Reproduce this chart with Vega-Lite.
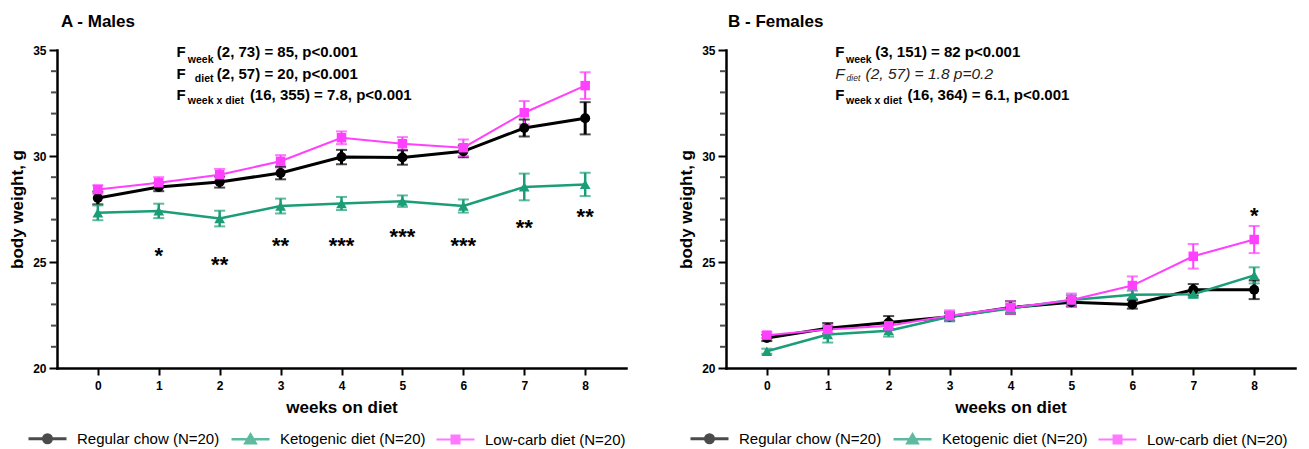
{
  "$schema": "https://vega.github.io/schema/vega-lite/v6.json",
  "padding": {"left": 8, "top": 13, "right": 13, "bottom": 0},
  "spacing": 51,
  "config": {
    "font": "Liberation Sans",
    "view": {"stroke": null},
    "axis": {"domainColor": "black", "domainWidth": 2.5, "domainCap": "square", "tickColor": "black", "tickWidth": 2, "labelColor": "black", "labelFontWeight": "bold", "labelFontSize": 12, "titleColor": "black", "titleFontWeight": "bold", "titleFontSize": 17, "grid": false, "labelOverlap": false, "labelBound": false, "labelFlush": false}
  },
  "datasets": {
    "minor": [
      {"v": 21}, {"v": 22}, {"v": 23}, {"v": 24}, {"v": 26}, {"v": 27}, {"v": 28}, {"v": 29},
      {"v": 31}, {"v": 32}, {"v": 33}, {"v": 34}
    ],
    "males": [
      {"diet": "Regular chow (N=20)", "week": 0, "mean": 28.02, "lo": 27.72, "hi": 28.32},
      {"diet": "Regular chow (N=20)", "week": 1, "mean": 28.54, "lo": 28.34, "hi": 28.74},
      {"diet": "Regular chow (N=20)", "week": 2, "mean": 28.77, "lo": 28.51, "hi": 29.03},
      {"diet": "Regular chow (N=20)", "week": 3, "mean": 29.20, "lo": 28.90, "hi": 29.50},
      {"diet": "Regular chow (N=20)", "week": 4, "mean": 29.95, "lo": 29.61, "hi": 30.29},
      {"diet": "Regular chow (N=20)", "week": 5, "mean": 29.93, "lo": 29.59, "hi": 30.27},
      {"diet": "Regular chow (N=20)", "week": 6, "mean": 30.22, "lo": 29.94, "hi": 30.50},
      {"diet": "Regular chow (N=20)", "week": 7, "mean": 31.32, "lo": 30.92, "hi": 31.72},
      {"diet": "Regular chow (N=20)", "week": 8, "mean": 31.78, "lo": 31.02, "hi": 32.54},
      {"diet": "Ketogenic diet (N=20)", "week": 0, "mean": 27.32, "lo": 26.97, "hi": 27.67},
      {"diet": "Ketogenic diet (N=20)", "week": 1, "mean": 27.41, "lo": 27.07, "hi": 27.75},
      {"diet": "Ketogenic diet (N=20)", "week": 2, "mean": 27.05, "lo": 26.68, "hi": 27.42},
      {"diet": "Ketogenic diet (N=20)", "week": 3, "mean": 27.64, "lo": 27.29, "hi": 27.99},
      {"diet": "Ketogenic diet (N=20)", "week": 4, "mean": 27.76, "lo": 27.45, "hi": 28.07},
      {"diet": "Ketogenic diet (N=20)", "week": 5, "mean": 27.87, "lo": 27.60, "hi": 28.14},
      {"diet": "Ketogenic diet (N=20)", "week": 6, "mean": 27.64, "lo": 27.33, "hi": 27.95},
      {"diet": "Ketogenic diet (N=20)", "week": 7, "mean": 28.54, "lo": 27.91, "hi": 29.17},
      {"diet": "Ketogenic diet (N=20)", "week": 8, "mean": 28.66, "lo": 28.11, "hi": 29.21},
      {"diet": "Low-carb diet (N=20)", "week": 0, "mean": 28.42, "lo": 28.22, "hi": 28.62},
      {"diet": "Low-carb diet (N=20)", "week": 1, "mean": 28.74, "lo": 28.48, "hi": 29.00},
      {"diet": "Low-carb diet (N=20)", "week": 2, "mean": 29.12, "lo": 28.85, "hi": 29.39},
      {"diet": "Low-carb diet (N=20)", "week": 3, "mean": 29.75, "lo": 29.46, "hi": 30.04},
      {"diet": "Low-carb diet (N=20)", "week": 4, "mean": 30.86, "lo": 30.56, "hi": 31.16},
      {"diet": "Low-carb diet (N=20)", "week": 5, "mean": 30.58, "lo": 30.27, "hi": 30.89},
      {"diet": "Low-carb diet (N=20)", "week": 6, "mean": 30.39, "lo": 30.00, "hi": 30.78},
      {"diet": "Low-carb diet (N=20)", "week": 7, "mean": 32.04, "lo": 31.49, "hi": 32.59},
      {"diet": "Low-carb diet (N=20)", "week": 8, "mean": 33.32, "lo": 32.69, "hi": 33.95}
    ],
    "females": [
      {"diet": "Regular chow (N=20)", "week": 0, "mean": 21.42, "lo": 21.27, "hi": 21.57},
      {"diet": "Regular chow (N=20)", "week": 1, "mean": 21.87, "lo": 21.62, "hi": 22.12},
      {"diet": "Regular chow (N=20)", "week": 2, "mean": 22.15, "lo": 21.85, "hi": 22.45},
      {"diet": "Regular chow (N=20)", "week": 3, "mean": 22.42, "lo": 22.24, "hi": 22.60},
      {"diet": "Regular chow (N=20)", "week": 4, "mean": 22.85, "lo": 22.55, "hi": 23.15},
      {"diet": "Regular chow (N=20)", "week": 5, "mean": 23.10, "lo": 22.90, "hi": 23.30},
      {"diet": "Regular chow (N=20)", "week": 6, "mean": 23.00, "lo": 22.80, "hi": 23.20},
      {"diet": "Regular chow (N=20)", "week": 7, "mean": 23.69, "lo": 23.42, "hi": 23.96},
      {"diet": "Regular chow (N=20)", "week": 8, "mean": 23.69, "lo": 23.25, "hi": 24.13},
      {"diet": "Ketogenic diet (N=20)", "week": 0, "mean": 20.79, "lo": 20.67, "hi": 20.91},
      {"diet": "Ketogenic diet (N=20)", "week": 1, "mean": 21.58, "lo": 21.20, "hi": 21.96},
      {"diet": "Ketogenic diet (N=20)", "week": 2, "mean": 21.76, "lo": 21.48, "hi": 22.04},
      {"diet": "Ketogenic diet (N=20)", "week": 3, "mean": 22.42, "lo": 22.20, "hi": 22.64},
      {"diet": "Ketogenic diet (N=20)", "week": 4, "mean": 22.81, "lo": 22.61, "hi": 23.01},
      {"diet": "Ketogenic diet (N=20)", "week": 5, "mean": 23.21, "lo": 22.99, "hi": 23.43},
      {"diet": "Ketogenic diet (N=20)", "week": 6, "mean": 23.45, "lo": 23.25, "hi": 23.65},
      {"diet": "Ketogenic diet (N=20)", "week": 7, "mean": 23.48, "lo": 23.33, "hi": 23.63},
      {"diet": "Ketogenic diet (N=20)", "week": 8, "mean": 24.37, "lo": 23.99, "hi": 24.75},
      {"diet": "Low-carb diet (N=20)", "week": 0, "mean": 21.55, "lo": 21.40, "hi": 21.70},
      {"diet": "Low-carb diet (N=20)", "week": 1, "mean": 21.82, "lo": 21.62, "hi": 22.02},
      {"diet": "Low-carb diet (N=20)", "week": 2, "mean": 21.99, "lo": 21.79, "hi": 22.19},
      {"diet": "Low-carb diet (N=20)", "week": 3, "mean": 22.47, "lo": 22.22, "hi": 22.72},
      {"diet": "Low-carb diet (N=20)", "week": 4, "mean": 22.85, "lo": 22.55, "hi": 23.15},
      {"diet": "Low-carb diet (N=20)", "week": 5, "mean": 23.21, "lo": 22.91, "hi": 23.51},
      {"diet": "Low-carb diet (N=20)", "week": 6, "mean": 23.89, "lo": 23.46, "hi": 24.32},
      {"diet": "Low-carb diet (N=20)", "week": 7, "mean": 25.27, "lo": 24.69, "hi": 25.85},
      {"diet": "Low-carb diet (N=20)", "week": 8, "mean": 26.06, "lo": 25.42, "hi": 26.70}
    ],
    "stars_m": [
      {"week": 1, "y": 25.56, "t": "*"},
      {"week": 2, "y": 25.14, "t": "**"},
      {"week": 3, "y": 26.06, "t": "**"},
      {"week": 4, "y": 26.03, "t": "***"},
      {"week": 5, "y": 26.46, "t": "***"},
      {"week": 6, "y": 26.03, "t": "***"},
      {"week": 7, "y": 26.89, "t": "**"},
      {"week": 8, "y": 27.41, "t": "**"}
    ],
    "stars_f": [
      {"week": 8, "y": 27.44, "t": "*"}
    ],
    "ann_m": [
      {"k": "main", "x": 1.29, "y": 34.65, "t": "F"},
      {"k": "sub", "x": 1.478, "y": 34.40, "t": "week"},
      {"k": "main", "x": 1.954, "y": 34.65, "t": "(2, 73) = 85, p<0.001"},
      {"k": "main", "x": 1.29, "y": 33.65, "t": "F"},
      {"k": "sub", "x": 1.593, "y": 33.47, "t": "diet"},
      {"k": "main", "x": 1.954, "y": 33.65, "t": "(2, 57) = 20, p<0.001"},
      {"k": "main", "x": 1.29, "y": 32.66, "t": "F"},
      {"k": "sub", "x": 1.478, "y": 32.46, "t": "week x diet"},
      {"k": "main", "x": 2.496, "y": 32.66, "t": "(16, 355) = 7.8, p<0.001"}
    ],
    "ann_f": [
      {"k": "main", "x": 1.123, "y": 34.65, "t": "F"},
      {"k": "sub", "x": 1.30, "y": 34.40, "t": "week"},
      {"k": "main", "x": 1.779, "y": 34.65, "t": "(3, 151) = 82 p<0.001"},
      {"k": "ital", "x": 1.123, "y": 33.65, "t": "F"},
      {"k": "italsub", "x": 1.31, "y": 33.52, "t": "diet"},
      {"k": "ital", "x": 1.62, "y": 33.65, "t": "(2, 57) = 1.8 p=0.2"},
      {"k": "main", "x": 1.123, "y": 32.66, "t": "F"},
      {"k": "sub", "x": 1.30, "y": 32.46, "t": "week x diet"},
      {"k": "main", "x": 2.31, "y": 32.66, "t": "(16, 364) = 6.1, p<0.001"}
    ]
  },
  "resolve": {
    "scale": {"color": "independent", "shape": "independent", "strokeWidth": "independent"},
    "legend": {"color": "independent", "shape": "independent"}
  },
  "hconcat": [
    {
      "width": 569,
      "height": 318,
      "title": {"text": "A - Males", "anchor": "start", "frame": "group", "fontSize": 17, "fontWeight": "bold", "color": "black", "dx": 4, "offset": 13},
      "layer": [
        {
          "data": {"name": "males"},
          "mark": {"type": "point", "filled": true, "opacity": 0, "size": 1444},
          "encoding": {
            "x": {"field": "week", "type": "quantitative", "title": "weeks on diet", "scale": {"domain": [-0.67, 8.67], "nice": false, "zero": false}, "axis": {"values": [0, 1, 2, 3, 4, 5, 6, 7, 8], "format": "d", "tickSize": 7, "labelPadding": 5, "titlePadding": 8}},
            "y": {"field": "mean", "type": "quantitative", "title": "body weight, g", "scale": {"domain": [20, 35], "nice": false, "zero": false}, "axis": {"values": [20, 25, 30, 35], "format": "d", "labelOverlap": false, "tickSize": 8, "labelPadding": 3, "titlePadding": 6}},
            "shape": {"field": "diet", "type": "nominal", "scale": {"domain": ["Regular chow (N=20)", "Ketogenic diet (N=20)", "Low-carb diet (N=20)"], "range": ["M-1,0L1,0M0.21,0A0.21,0.21,0,1,1,-0.21,0A0.21,0.21,0,1,1,0.21,0Z", "M-1,0L1,0M0,-0.26L0.27,0.2L-0.27,0.2Z", "M-1,0L1,0M-0.21,-0.21L0.21,-0.21L0.21,0.21L-0.21,0.21Z"]}, "legend": null},
            "color": {
              "field": "diet", "type": "nominal",
              "scale": {"domain": ["Regular chow (N=20)", "Ketogenic diet (N=20)", "Low-carb diet (N=20)"], "range": ["#000000", "#1b9e77", "#ff40ff"]},
              "legend": {"title": null, "orient": "none", "legendX": -30, "legendY": 368, "direction": "horizontal", "columns": 3, "labelFontSize": 15, "labelColor": "black", "labelFont": "Liberation Sans", "symbolSize": 1444, "symbolOpacity": 1, "labelOffset": 9, "columnPadding": 6}
            }
          }
        },
        {
          "data": {"name": "minor"},
          "mark": {"type": "tick", "orient": "horizontal", "size": 5, "thickness": 2, "color": "black", "xOffset": -3.5},
          "encoding": {
            "x": {"datum": -0.67, "type": "quantitative", "title": "weeks on diet"},
            "y": {"field": "v", "type": "quantitative", "title": "body weight, g"}
          }
        },
        {
          "data": {"name": "males"},
          "mark": {"type": "rule"},
          "encoding": {
            "x": {"field": "week", "type": "quantitative", "title": "weeks on diet"},
            "y": {"field": "lo", "type": "quantitative", "title": "body weight, g"},
            "y2": {"field": "hi"},
            "color": {"field": "diet", "type": "nominal"},
            "strokeWidth": {"field": "diet", "type": "nominal", "scale": {"domain": ["Regular chow (N=20)", "Ketogenic diet (N=20)", "Low-carb diet (N=20)"], "range": [3, 2, 2]}, "legend": null}
          }
        },
        {
          "data": {"name": "males"},
          "mark": {"type": "tick", "orient": "horizontal", "size": 11, "thickness": 2},
          "encoding": {
            "x": {"field": "week", "type": "quantitative", "title": "weeks on diet"},
            "y": {"field": "lo", "type": "quantitative", "title": "body weight, g"},
            "color": {"field": "diet", "type": "nominal"}
          }
        },
        {
          "data": {"name": "males"},
          "mark": {"type": "tick", "orient": "horizontal", "size": 11, "thickness": 2},
          "encoding": {
            "x": {"field": "week", "type": "quantitative", "title": "weeks on diet"},
            "y": {"field": "hi", "type": "quantitative", "title": "body weight, g"},
            "color": {"field": "diet", "type": "nominal"}
          }
        },
        {
          "data": {"name": "males"},
          "mark": {"type": "line"},
          "encoding": {
            "x": {"field": "week", "type": "quantitative", "title": "weeks on diet"},
            "y": {"field": "mean", "type": "quantitative", "title": "body weight, g"},
            "color": {"field": "diet", "type": "nominal"},
            "strokeWidth": {"field": "diet", "type": "nominal", "legend": null}
          }
        },
        {
          "data": {"name": "males"},
          "transform": [{"filter": "datum.diet === 'Regular chow (N=20)'"}],
          "mark": {"type": "point", "filled": true, "opacity": 1, "size": 100, "shape": "circle"},
          "encoding": {
            "x": {"field": "week", "type": "quantitative", "title": "weeks on diet"},
            "y": {"field": "mean", "type": "quantitative", "title": "body weight, g"},
            "color": {"field": "diet", "type": "nominal"}
          }
        },
        {
          "data": {"name": "males"},
          "transform": [{"filter": "datum.diet === 'Ketogenic diet (N=20)'"}],
          "mark": {"type": "point", "filled": true, "opacity": 1, "size": 115, "shape": "triangle-up"},
          "encoding": {
            "x": {"field": "week", "type": "quantitative", "title": "weeks on diet"},
            "y": {"field": "mean", "type": "quantitative", "title": "body weight, g"},
            "color": {"field": "diet", "type": "nominal"}
          }
        },
        {
          "data": {"name": "males"},
          "transform": [{"filter": "datum.diet === 'Low-carb diet (N=20)'"}],
          "mark": {"type": "point", "filled": true, "opacity": 1, "size": 90, "shape": "square"},
          "encoding": {
            "x": {"field": "week", "type": "quantitative", "title": "weeks on diet"},
            "y": {"field": "mean", "type": "quantitative", "title": "body weight, g"},
            "color": {"field": "diet", "type": "nominal"}
          }
        },
        {
          "data": {"name": "stars_m"},
          "mark": {"type": "text", "fontSize": 22, "fontWeight": "bold", "baseline": "middle", "align": "center", "dy": 6, "color": "black"},
          "encoding": {
            "x": {"field": "week", "type": "quantitative", "title": "weeks on diet"},
            "y": {"field": "y", "type": "quantitative", "title": "body weight, g"},
            "text": {"field": "t"}
          }
        },
        {
          "data": {"name": "ann_m"},
          "transform": [{"filter": "datum.k === 'main'"}],
          "mark": {"type": "text", "fontSize": 15, "fontWeight": "bold", "baseline": "alphabetic", "align": "left", "color": "black"},
          "encoding": {
            "x": {"field": "x", "type": "quantitative", "title": "weeks on diet"},
            "y": {"field": "y", "type": "quantitative", "title": "body weight, g"},
            "text": {"field": "t"}
          }
        },
        {
          "data": {"name": "ann_m"},
          "transform": [{"filter": "datum.k === 'sub'"}],
          "mark": {"type": "text", "fontSize": 10.5, "fontWeight": "bold", "baseline": "alphabetic", "align": "left", "color": "black"},
          "encoding": {
            "x": {"field": "x", "type": "quantitative", "title": "weeks on diet"},
            "y": {"field": "y", "type": "quantitative", "title": "body weight, g"},
            "text": {"field": "t"}
          }
        }
      ]
    },
    {
      "width": 569,
      "height": 318,
      "title": {"text": "B - Females", "anchor": "start", "frame": "group", "fontSize": 17, "fontWeight": "bold", "color": "black", "dx": 2, "offset": 13},
      "layer": [
        {
          "data": {"name": "females"},
          "mark": {"type": "point", "filled": true, "opacity": 0, "size": 1444},
          "encoding": {
            "x": {"field": "week", "type": "quantitative", "title": "weeks on diet", "scale": {"domain": [-0.67, 8.67], "nice": false, "zero": false}, "axis": {"values": [0, 1, 2, 3, 4, 5, 6, 7, 8], "format": "d", "tickSize": 7, "labelPadding": 5, "titlePadding": 8}},
            "y": {"field": "mean", "type": "quantitative", "title": "body weight, g", "scale": {"domain": [20, 35], "nice": false, "zero": false}, "axis": {"values": [20, 25, 30, 35], "format": "d", "labelOverlap": false, "tickSize": 8, "labelPadding": 3, "titlePadding": 6}},
            "shape": {"field": "diet", "type": "nominal", "scale": {"domain": ["Regular chow (N=20)", "Ketogenic diet (N=20)", "Low-carb diet (N=20)"], "range": ["M-1,0L1,0M0.21,0A0.21,0.21,0,1,1,-0.21,0A0.21,0.21,0,1,1,0.21,0Z", "M-1,0L1,0M0,-0.26L0.27,0.2L-0.27,0.2Z", "M-1,0L1,0M-0.21,-0.21L0.21,-0.21L0.21,0.21L-0.21,0.21Z"]}, "legend": null},
            "color": {
              "field": "diet", "type": "nominal",
              "scale": {"domain": ["Regular chow (N=20)", "Ketogenic diet (N=20)", "Low-carb diet (N=20)"], "range": ["#000000", "#1b9e77", "#ff40ff"]},
              "legend": {"title": null, "orient": "none", "legendX": -37, "legendY": 368, "direction": "horizontal", "columns": 3, "labelFontSize": 15, "labelColor": "black", "labelFont": "Liberation Sans", "symbolSize": 1444, "symbolOpacity": 1, "labelOffset": 9, "columnPadding": 6}
            }
          }
        },
        {
          "data": {"name": "minor"},
          "mark": {"type": "tick", "orient": "horizontal", "size": 5, "thickness": 2, "color": "black", "xOffset": -3.5},
          "encoding": {
            "x": {"datum": -0.67, "type": "quantitative", "title": "weeks on diet"},
            "y": {"field": "v", "type": "quantitative", "title": "body weight, g"}
          }
        },
        {
          "data": {"name": "females"},
          "mark": {"type": "rule"},
          "encoding": {
            "x": {"field": "week", "type": "quantitative", "title": "weeks on diet"},
            "y": {"field": "lo", "type": "quantitative", "title": "body weight, g"},
            "y2": {"field": "hi"},
            "color": {"field": "diet", "type": "nominal"},
            "strokeWidth": {"field": "diet", "type": "nominal", "scale": {"domain": ["Regular chow (N=20)", "Ketogenic diet (N=20)", "Low-carb diet (N=20)"], "range": [3, 2, 2]}, "legend": null}
          }
        },
        {
          "data": {"name": "females"},
          "mark": {"type": "tick", "orient": "horizontal", "size": 11, "thickness": 2},
          "encoding": {
            "x": {"field": "week", "type": "quantitative", "title": "weeks on diet"},
            "y": {"field": "lo", "type": "quantitative", "title": "body weight, g"},
            "color": {"field": "diet", "type": "nominal"}
          }
        },
        {
          "data": {"name": "females"},
          "mark": {"type": "tick", "orient": "horizontal", "size": 11, "thickness": 2},
          "encoding": {
            "x": {"field": "week", "type": "quantitative", "title": "weeks on diet"},
            "y": {"field": "hi", "type": "quantitative", "title": "body weight, g"},
            "color": {"field": "diet", "type": "nominal"}
          }
        },
        {
          "data": {"name": "females"},
          "mark": {"type": "line"},
          "encoding": {
            "x": {"field": "week", "type": "quantitative", "title": "weeks on diet"},
            "y": {"field": "mean", "type": "quantitative", "title": "body weight, g"},
            "color": {"field": "diet", "type": "nominal"},
            "strokeWidth": {"field": "diet", "type": "nominal", "legend": null}
          }
        },
        {
          "data": {"name": "females"},
          "transform": [{"filter": "datum.diet === 'Regular chow (N=20)'"}],
          "mark": {"type": "point", "filled": true, "opacity": 1, "size": 100, "shape": "circle"},
          "encoding": {
            "x": {"field": "week", "type": "quantitative", "title": "weeks on diet"},
            "y": {"field": "mean", "type": "quantitative", "title": "body weight, g"},
            "color": {"field": "diet", "type": "nominal"}
          }
        },
        {
          "data": {"name": "females"},
          "transform": [{"filter": "datum.diet === 'Ketogenic diet (N=20)'"}],
          "mark": {"type": "point", "filled": true, "opacity": 1, "size": 115, "shape": "triangle-up"},
          "encoding": {
            "x": {"field": "week", "type": "quantitative", "title": "weeks on diet"},
            "y": {"field": "mean", "type": "quantitative", "title": "body weight, g"},
            "color": {"field": "diet", "type": "nominal"}
          }
        },
        {
          "data": {"name": "females"},
          "transform": [{"filter": "datum.diet === 'Low-carb diet (N=20)'"}],
          "mark": {"type": "point", "filled": true, "opacity": 1, "size": 90, "shape": "square"},
          "encoding": {
            "x": {"field": "week", "type": "quantitative", "title": "weeks on diet"},
            "y": {"field": "mean", "type": "quantitative", "title": "body weight, g"},
            "color": {"field": "diet", "type": "nominal"}
          }
        },
        {
          "data": {"name": "stars_f"},
          "mark": {"type": "text", "fontSize": 22, "fontWeight": "bold", "baseline": "middle", "align": "center", "dy": 6, "color": "black"},
          "encoding": {
            "x": {"field": "week", "type": "quantitative", "title": "weeks on diet"},
            "y": {"field": "y", "type": "quantitative", "title": "body weight, g"},
            "text": {"field": "t"}
          }
        },
        {
          "data": {"name": "ann_f"},
          "transform": [{"filter": "datum.k === 'main'"}],
          "mark": {"type": "text", "fontSize": 15, "fontWeight": "bold", "baseline": "alphabetic", "align": "left", "color": "black"},
          "encoding": {
            "x": {"field": "x", "type": "quantitative", "title": "weeks on diet"},
            "y": {"field": "y", "type": "quantitative", "title": "body weight, g"},
            "text": {"field": "t"}
          }
        },
        {
          "data": {"name": "ann_f"},
          "transform": [{"filter": "datum.k === 'sub'"}],
          "mark": {"type": "text", "fontSize": 10.5, "fontWeight": "bold", "baseline": "alphabetic", "align": "left", "color": "black"},
          "encoding": {
            "x": {"field": "x", "type": "quantitative", "title": "weeks on diet"},
            "y": {"field": "y", "type": "quantitative", "title": "body weight, g"},
            "text": {"field": "t"}
          }
        },
        {
          "data": {"name": "ann_f"},
          "transform": [{"filter": "datum.k === 'ital'"}],
          "mark": {"type": "text", "fontSize": 15.5, "fontStyle": "italic", "baseline": "alphabetic", "align": "left", "color": "#222222"},
          "encoding": {
            "x": {"field": "x", "type": "quantitative", "title": "weeks on diet"},
            "y": {"field": "y", "type": "quantitative", "title": "body weight, g"},
            "text": {"field": "t"}
          }
        },
        {
          "data": {"name": "ann_f"},
          "transform": [{"filter": "datum.k === 'italsub'"}],
          "mark": {"type": "text", "fontSize": 8.5, "fontStyle": "italic", "baseline": "alphabetic", "align": "left", "color": "#222222"},
          "encoding": {
            "x": {"field": "x", "type": "quantitative", "title": "weeks on diet"},
            "y": {"field": "y", "type": "quantitative", "title": "body weight, g"},
            "text": {"field": "t"}
          }
        }
      ]
    }
  ]
}
